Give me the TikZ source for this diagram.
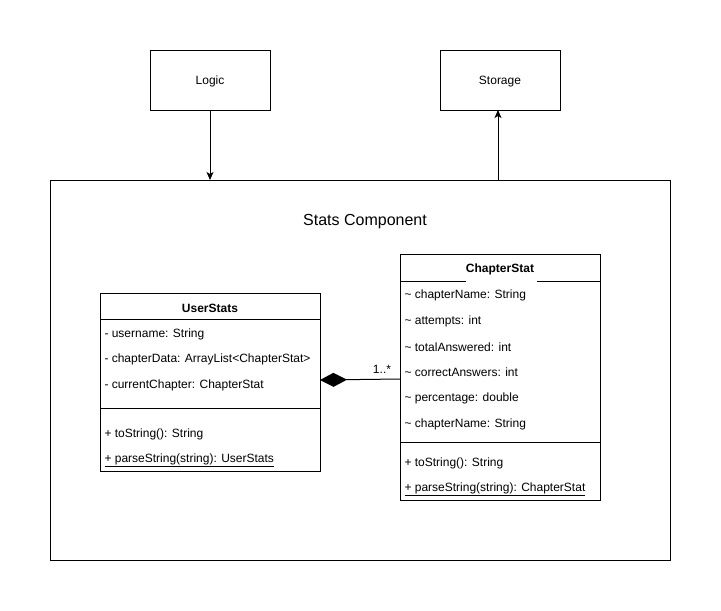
\documentclass[tikz,border=0pt]{standalone}
\usepackage{fontspec}
\setmainfont{Liberation Sans}
\usetikzlibrary{arrows.meta,shapes.geometric}
\begin{document}
\begin{tikzpicture}[x=1pt,y=-1pt,line width=1pt,
  lbl/.style={font=\fontsize{12}{14}\selectfont,inner sep=0pt,yshift=-1.5pt},
  attr/.style={font=\fontsize{12}{14}\selectfont,inner sep=0pt,anchor=west,yshift=-1.5pt},
  cname/.style={font=\fontsize{12}{14}\selectfont\bfseries,inner sep=0pt,yshift=-1.5pt},
  arr/.style={-{Stealth[length=8pt,width=7pt,inset=2pt]}}]
\useasboundingbox (0,0) rectangle (721,611);
% top boxes
\node[draw,minimum width=120pt,minimum height=60pt,inner sep=0pt] (logic) at (210,80) {};
\node[lbl] (logict) at (210,80) {Logic};
\node[draw,minimum width=120pt,minimum height=60pt,inner sep=0pt] (storage) at (500,80) {};
\node[lbl] (storaget) at (500,80) {Storage};
% container
\node[draw,minimum width=620pt,minimum height=380pt,inner sep=0pt] (comp) at (360,370) {};
\node[font=\fontsize{16}{19}\selectfont,inner sep=0pt,yshift=-2.5pt] (compt) at (365,219) {Stats Component};
\coordinate (ltop) at (210,180);
\coordinate (stop) at (498,180);
\coordinate (sbot) at (498,110);
\draw[arr] (logic.south) -- (ltop);
\draw[arr] (stop) -- (sbot);
% UserStats
\node[draw,minimum width=220pt,minimum height=178pt,inner sep=0pt] (us) at (210,382) {};
\draw (100,319) -- (320,319);
\draw (100,408) -- (320,408);
\node[cname] (ust) at (210,307) {UserStats};
\node[attr] (u1) at (104,333) {- username: String};
\node[attr] (u2) at (104,358) {- chapterData: ArrayList<ChapterStat>};
\node[attr] (u3) at (104,384) {- currentChapter: ChapterStat};
\node[attr] (u4) at (104,433) {+ toString(): String};
\node[attr] (u5) at (104,459) {\underline{+ parseString(string): UserStats}};
% ChapterStat
\node[draw,minimum width=200pt,minimum height=246pt,inner sep=0pt] (cs) at (500,377) {};
\draw (400,281) -- (466,281);
\draw (537,281) -- (600,281);
\draw (400,442) -- (600,442);
\node[cname] (cst) at (500,268) {ChapterStat};
\node[attr] (c1) at (404,294) {\char`~{} chapterName: String};
\node[attr] (c2) at (404,320) {\char`~{} attempts: int};
\node[attr] (c3) at (404,346) {\char`~{} totalAnswered: int};
\node[attr] (c4) at (404,371) {\char`~{} correctAnswers: int};
\node[attr] (c5) at (404,397) {\char`~{} percentage: double};
\node[attr] (c6) at (404,423) {\char`~{} chapterName: String};
\node[attr] (c7) at (404,462) {+ toString(): String};
\node[attr] (c8) at (404,488) {\underline{+ parseString(string): ChapterStat}};
% composition
\coordinate (dR) at (400,379);
\coordinate (dL) at (320,380);
\draw[-{Diamond[length=27pt,width=14pt]}] (dR) -- (dL);
\node[lbl] (mult) at (382,368) {1..*};
\end{tikzpicture}
\end{document}
